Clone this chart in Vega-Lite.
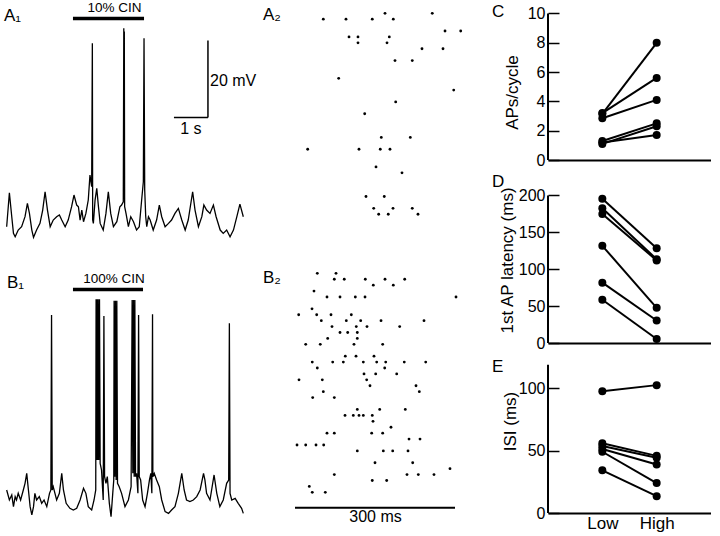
{
  "$schema": "https://vega.github.io/schema/vega-lite/v6.json",
  "padding": 0,
  "background": "white",
  "spacing": 2,
  "config": {
    "font": "Liberation Sans",
    "view": {"stroke": null},
    "axis": {"labelColor": "black", "titleColor": "black", "domainColor": "black", "tickColor": "black", "grid": false, "titleFontWeight": "normal", "labelFont": "Liberation Sans", "titleFont": "Liberation Sans"},
    "text": {"color": "black", "font": "Liberation Sans"}
  },
  "datasets": {
    "a1": [
      {"t":-0.01,"mV":2.09},{"t":0.07,"mV":10.92},{"t":0.14,"mV":4.69},{"t":0.19,"mV":0.36},{"t":0.24,"mV":-0.51},{"t":0.33,"mV":1.22},{"t":0.43,"mV":2.09},{"t":0.53,"mV":4.69},{"t":0.60,"mV":8.15},{"t":0.66,"mV":5.55},{"t":0.73,"mV":1.22},{"t":0.78,"mV":-0.68},{"t":0.87,"mV":1.22},{"t":0.97,"mV":2.95},{"t":1.05,"mV":6.42},{"t":1.12,"mV":11.18},{"t":1.19,"mV":6.42},{"t":1.27,"mV":2.09},{"t":1.36,"mV":3.82},{"t":1.46,"mV":4.69},{"t":1.54,"mV":5.12},{"t":1.61,"mV":3.82},{"t":1.71,"mV":2.09},{"t":1.80,"mV":3.82},{"t":1.90,"mV":7.29},{"t":1.97,"mV":10.32},{"t":2.05,"mV":7.72},{"t":2.10,"mV":7.29},{"t":2.15,"mV":3.82},{"t":2.20,"mV":6.42},{"t":2.25,"mV":3.39},{"t":2.32,"mV":5.55},{"t":2.39,"mV":9.02},{"t":2.44,"mV":15.51},{"t":2.49,"mV":12.48},{"t":2.51,"mV":49.73},{"t":2.52,"mV":3.82},{"t":2.54,"mV":2.95},{"t":2.59,"mV":9.02},{"t":2.64,"mV":12.05},{"t":2.69,"mV":7.29},{"t":2.74,"mV":2.95},{"t":2.83,"mV":1.22},{"t":2.91,"mV":5.55},{"t":2.98,"mV":11.18},{"t":3.05,"mV":5.55},{"t":3.13,"mV":2.09},{"t":3.23,"mV":3.39},{"t":3.32,"mV":7.29},{"t":3.37,"mV":7.72},{"t":3.42,"mV":8.58},{"t":3.435,"mV":53.63},{"t":3.445,"mV":9.5},{"t":3.45,"mV":52.8},{"t":3.46,"mV":7.29},{"t":3.50,"mV":5.55},{"t":3.57,"mV":2.09},{"t":3.64,"mV":4.69},{"t":3.72,"mV":3.39},{"t":3.81,"mV":1.22},{"t":3.89,"mV":2.09},{"t":3.96,"mV":9.02},{"t":4.01,"mV":13.78},{"t":4.03,"mV":51.03},{"t":4.05,"mV":11.62},{"t":4.08,"mV":4.69},{"t":4.11,"mV":2.09},{"t":4.16,"mV":4.69},{"t":4.21,"mV":3.82},{"t":4.30,"mV":1.22},{"t":4.40,"mV":3.82},{"t":4.48,"mV":7.72},{"t":4.55,"mV":4.69},{"t":4.65,"mV":2.09},{"t":4.75,"mV":2.95},{"t":4.84,"mV":3.82},{"t":4.94,"mV":5.55},{"t":5.04,"mV":6.85},{"t":5.14,"mV":3.82},{"t":5.24,"mV":1.22},{"t":5.33,"mV":3.82},{"t":5.46,"mV":11.18},{"t":5.53,"mV":6.42},{"t":5.63,"mV":2.09},{"t":5.73,"mV":4.69},{"t":5.79,"mV":7.72},{"t":5.87,"mV":6.42},{"t":5.97,"mV":5.55},{"t":6.07,"mV":7.72},{"t":6.15,"mV":4.69},{"t":6.27,"mV":1.22},{"t":6.36,"mV":0.36},{"t":6.46,"mV":1.22},{"t":6.56,"mV":-0.51},{"t":6.66,"mV":1.22},{"t":6.76,"mV":4.69},{"t":6.85,"mV":7.98},{"t":6.95,"mV":4.69}
    ],
    "b1": [
      {"t":-0.01,"mV":4.94},{"t":0.07,"mV":2.34},{"t":0.14,"mV":3.64},{"t":0.19,"mV":0.61},{"t":0.24,"mV":3.21},{"t":0.28,"mV":2.34},{"t":0.33,"mV":4.07},{"t":0.40,"mV":2.34},{"t":0.48,"mV":4.94},{"t":0.53,"mV":6.67},{"t":0.58,"mV":9.27},{"t":0.63,"mV":4.94},{"t":0.68,"mV":0.61},{"t":0.73,"mV":-1.56},{"t":0.78,"mV":0.61},{"t":0.82,"mV":4.07},{"t":0.87,"mV":2.34},{"t":0.95,"mV":3.21},{"t":1.02,"mV":1.47},{"t":1.09,"mV":2.34},{"t":1.17,"mV":0.61},{"t":1.25,"mV":4.07},{"t":1.29,"mV":4.94},{"t":1.31,"mV":50.42},{"t":1.33,"mV":4.94},{"t":1.36,"mV":5.80},{"t":1.41,"mV":4.07},{"t":1.46,"mV":2.34},{"t":1.54,"mV":4.07},{"t":1.61,"mV":9.27},{"t":1.66,"mV":4.94},{"t":1.74,"mV":1.47},{"t":1.85,"mV":0.17},{"t":1.95,"mV":-0.26},{"t":2.05,"mV":0.17},{"t":2.15,"mV":2.34},{"t":2.25,"mV":5.37},{"t":2.32,"mV":4.07},{"t":2.39,"mV":0.61},{"t":2.49,"mV":-0.26},{"t":2.56,"mV":2.34},{"t":2.61,"mV":4.94},{"t":2.62,"mV":54.49},{"t":2.64,"mV":12.73},{"t":2.65,"mV":54.49},{"t":2.67,"mV":12.73},{"t":2.68,"mV":54.49},{"t":2.70,"mV":12.73},{"t":2.72,"mV":54.49},{"t":2.74,"mV":11.87},{"t":2.78,"mV":10.14},{"t":2.83,"mV":2.34},{"t":2.85,"mV":50.16},{"t":2.87,"mV":8.40},{"t":2.91,"mV":6.67},{"t":2.95,"mV":8.40},{"t":3.01,"mV":1.47},{"t":3.06,"mV":-1.99},{"t":3.11,"mV":4.07},{"t":3.14,"mV":7.54},{"t":3.15,"mV":54.14},{"t":3.17,"mV":8.40},{"t":3.19,"mV":54.14},{"t":3.21,"mV":7.54},{"t":3.23,"mV":54.14},{"t":3.25,"mV":6.67},{"t":3.30,"mV":5.80},{"t":3.37,"mV":4.07},{"t":3.47,"mV":0.61},{"t":3.57,"mV":2.34},{"t":3.65,"mV":5.80},{"t":3.68,"mV":54.31},{"t":3.70,"mV":9.27},{"t":3.72,"mV":54.31},{"t":3.74,"mV":8.40},{"t":3.76,"mV":54.31},{"t":3.78,"mV":8.40},{"t":3.81,"mV":9.27},{"t":3.85,"mV":4.07},{"t":3.87,"mV":50.42},{"t":3.89,"mV":8.40},{"t":3.93,"mV":7.54},{"t":3.99,"mV":2.34},{"t":4.06,"mV":0.61},{"t":4.13,"mV":4.07},{"t":4.19,"mV":7.54},{"t":4.23,"mV":9.27},{"t":4.26,"mV":4.07},{"t":4.28,"mV":50.59},{"t":4.29,"mV":8.40},{"t":4.33,"mV":9.27},{"t":4.40,"mV":7.54},{"t":4.48,"mV":5.80},{"t":4.55,"mV":2.34},{"t":4.65,"mV":-0.69},{"t":4.75,"mV":-1.13},{"t":4.84,"mV":-0.26},{"t":4.94,"mV":0.61},{"t":5.04,"mV":4.07},{"t":5.14,"mV":9.27},{"t":5.21,"mV":4.94},{"t":5.28,"mV":2.34},{"t":5.38,"mV":1.91},{"t":5.48,"mV":2.34},{"t":5.58,"mV":3.21},{"t":5.68,"mV":4.94},{"t":5.78,"mV":9.27},{"t":5.82,"mV":7.54},{"t":5.87,"mV":4.07},{"t":5.97,"mV":2.34},{"t":6.09,"mV":8.84},{"t":6.17,"mV":4.07},{"t":6.26,"mV":0.61},{"t":6.36,"mV":2.34},{"t":6.46,"mV":6.67},{"t":6.52,"mV":7.54},{"t":6.54,"mV":48.25},{"t":6.56,"mV":4.07},{"t":6.61,"mV":2.34},{"t":6.71,"mV":2.77},{"t":6.80,"mV":1.47},{"t":6.90,"mV":0.17},{"t":6.95,"mV":-1.13}
    ],
    "a2": [
      {"r":0,"ms":168.8},{"r":0,"ms":257.4},
      {"r":1,"ms":53.1},{"r":1,"ms":95.6},{"r":1,"ms":144.9},{"r":1,"ms":184.3},
      {"r":3,"ms":281.3},{"r":3,"ms":310.7},
      {"r":4,"ms":101.3},{"r":4,"ms":118.1},{"r":4,"ms":176.8},
      {"r":5,"ms":118.1},{"r":5,"ms":172.5},
      {"r":6,"ms":238.1},{"r":6,"ms":277.5},
      {"r":8,"ms":187.5},{"r":8,"ms":219.9},
      {"r":11,"ms":81.9},
      {"r":13,"ms":297.6},
      {"r":15,"ms":188.8},
      {"r":17,"ms":130.7},
      {"r":21,"ms":161.8},{"r":21,"ms":216.2},
      {"r":23,"ms":23.8},{"r":23,"ms":120.0},{"r":23,"ms":159.9},{"r":23,"ms":178.1},
      {"r":26,"ms":151.9},
      {"r":27,"ms":200.6},
      {"r":31,"ms":133.1},{"r":31,"ms":167.4},
      {"r":33,"ms":147.6},{"r":33,"ms":183.8},{"r":33,"ms":219.9},
      {"r":34,"ms":156.9},{"r":34,"ms":174.9},{"r":34,"ms":230.6}
    ],
    "b2": [
      {"r":0,"ms":41.8},{"r":0,"ms":76.9},
      {"r":1,"ms":73.7},{"r":1,"ms":92.4},{"r":1,"ms":131.8},{"r":1,"ms":168.8},{"r":1,"ms":205.7},
      {"r":2,"ms":146.8},{"r":2,"ms":184.3},
      {"r":3,"ms":35.6},
      {"r":4,"ms":60},{"r":4,"ms":84.4},{"r":4,"ms":113.1},{"r":4,"ms":131.3},{"r":4,"ms":301.9},
      {"r":6,"ms":31.9},
      {"r":7,"ms":6.9},{"r":7,"ms":40.7},{"r":7,"ms":67.5},{"r":7,"ms":105.6},
      {"r":8,"ms":49.3},{"r":8,"ms":96.2},{"r":8,"ms":123.2},{"r":8,"ms":161.3},{"r":8,"ms":241.9},
      {"r":9,"ms":69.4},{"r":9,"ms":114.9},{"r":9,"ms":135},{"r":9,"ms":196.3},
      {"r":10,"ms":84.4},{"r":10,"ms":98.8},{"r":10,"ms":116.8},
      {"r":11,"ms":61.3},{"r":11,"ms":116.8},
      {"r":12,"ms":20.1},{"r":12,"ms":47.4},{"r":12,"ms":110.6},{"r":12,"ms":164.4},
      {"r":14,"ms":94.3},{"r":14,"ms":114.4},{"r":14,"ms":148.1},
      {"r":15,"ms":32.4},{"r":15,"ms":70.7},{"r":15,"ms":90.6},{"r":15,"ms":128.1},{"r":15,"ms":153.2},{"r":15,"ms":170.1},{"r":15,"ms":204.9},{"r":15,"ms":245.1},
      {"r":16,"ms":41.8},{"r":16,"ms":168.2},
      {"r":17,"ms":129.4},{"r":17,"ms":151.3},{"r":17,"ms":190.7},
      {"r":18,"ms":7.5},{"r":18,"ms":51.2},{"r":18,"ms":134.4},
      {"r":19,"ms":140.6},{"r":19,"ms":226.9},
      {"r":20,"ms":53.1},{"r":20,"ms":233.1},
      {"r":21,"ms":33.2},{"r":21,"ms":73.7},
      {"r":23,"ms":116.8},{"r":23,"ms":158.8},{"r":23,"ms":206.8},
      {"r":24,"ms":93.8},{"r":24,"ms":109.3},{"r":24,"ms":120},{"r":24,"ms":128.1},{"r":24,"ms":144.9},
      {"r":25,"ms":146.3},
      {"r":26,"ms":180},
      {"r":27,"ms":60},{"r":27,"ms":73.7},{"r":27,"ms":143.8},{"r":27,"ms":164.4},
      {"r":28,"ms":213.8},{"r":28,"ms":234.4},
      {"r":29,"ms":3.8},{"r":29,"ms":20.1},{"r":29,"ms":39.4},{"r":29,"ms":53.8},
      {"r":30,"ms":116.8},{"r":30,"ms":165.6},{"r":30,"ms":183.2},{"r":30,"ms":211.9},
      {"r":32,"ms":150},{"r":32,"ms":220.7},
      {"r":33,"ms":290.6},
      {"r":34,"ms":73.7},{"r":34,"ms":210},{"r":34,"ms":231.2},{"r":34,"ms":260.6},
      {"r":35,"ms":144.9},{"r":35,"ms":171.9},
      {"r":36,"ms":26.8},
      {"r":37,"ms":32.4},{"r":37,"ms":56.8}
    ],
    "c": [
      {"s":1,"cond":1,"val":3.15},{"s":1,"cond":2,"val":8.0},
      {"s":2,"cond":1,"val":3.2},{"s":2,"cond":2,"val":5.6},
      {"s":3,"cond":1,"val":2.85},{"s":3,"cond":2,"val":4.1},
      {"s":4,"cond":1,"val":1.3},{"s":4,"cond":2,"val":2.5},
      {"s":5,"cond":1,"val":1.1},{"s":5,"cond":2,"val":2.3},
      {"s":6,"cond":1,"val":1.2},{"s":6,"cond":2,"val":1.7}
    ],
    "d": [
      {"s":1,"cond":1,"val":195.5},{"s":1,"cond":2,"val":128.5},
      {"s":2,"cond":1,"val":182.7},{"s":2,"cond":2,"val":113.5},
      {"s":3,"cond":1,"val":175},{"s":3,"cond":2,"val":112},
      {"s":4,"cond":1,"val":131.8},{"s":4,"cond":2,"val":47.7},
      {"s":5,"cond":1,"val":81.8},{"s":5,"cond":2,"val":30.5},
      {"s":6,"cond":1,"val":58.6},{"s":6,"cond":2,"val":5.5}
    ],
    "e": [
      {"s":1,"cond":1,"val":97.8},{"s":1,"cond":2,"val":102.7},
      {"s":2,"cond":1,"val":56},{"s":2,"cond":2,"val":45.9},
      {"s":3,"cond":1,"val":53.8},{"s":3,"cond":2,"val":44.3},
      {"s":4,"cond":1,"val":51.4},{"s":4,"cond":2,"val":38.9},
      {"s":5,"cond":1,"val":49.2},{"s":5,"cond":2,"val":24},
      {"s":6,"cond":1,"val":34.3},{"s":6,"cond":2,"val":13.5}
    ]
  },
  "hconcat": [
    {
      "spacing": 4,
      "vconcat": [
        {
          "width": 258, "height": 254,
          "layer": [
            {"data": {"name": "a1"}, "mark": {"type": "line", "color": "black", "strokeWidth": 1.3},
             "encoding": {
               "x": {"field": "t", "type": "quantitative", "scale": {"domain": [-0.206, 7.382], "nice": false, "zero": false}, "axis": null},
               "y": {"field": "mV", "type": "quantitative", "scale": {"domain": [-5, 61], "nice": false, "zero": false}, "axis": null}}},
            {"data": {"values": [{}]}, "mark": {"type": "rule", "color": "black", "strokeWidth": 3.5},
             "encoding": {"x": {"datum": 1.94, "axis": null}, "x2": {"datum": 4.03}, "y": {"datum": 56.2, "axis": null}}},
            {"data": {"values": [{}]}, "mark": {"type": "text", "text": "10% CIN", "fontSize": 13.5, "align": "center", "baseline": "middle"},
             "encoding": {"x": {"datum": 3.16, "axis": null}, "y": {"datum": 59.05, "axis": null}}},
            {"data": {"values": [{}]}, "mark": {"type": "text", "text": "A₁", "fontSize": 17, "align": "left", "baseline": "middle"},
             "encoding": {"x": {"datum": -0.09, "axis": null}, "y": {"datum": 56.84, "axis": null}}},
            {"data": {"values": [{}]}, "mark": {"type": "rule", "color": "black", "strokeWidth": 1.5},
             "encoding": {"x": {"datum": 5.91, "axis": null}, "y": {"datum": 30.5, "axis": null}, "y2": {"datum": 50.5}}},
            {"data": {"values": [{}]}, "mark": {"type": "rule", "color": "black", "strokeWidth": 1.5},
             "encoding": {"x": {"datum": 4.91, "axis": null}, "x2": {"datum": 5.91}, "y": {"datum": 30.5, "axis": null}}},
            {"data": {"values": [{}]}, "mark": {"type": "text", "text": "20 mV", "fontSize": 16, "align": "left", "baseline": "middle"},
             "encoding": {"x": {"datum": 5.97, "axis": null}, "y": {"datum": 40.08, "axis": null}}},
            {"data": {"values": [{}]}, "mark": {"type": "text", "text": "1 s", "fontSize": 16, "align": "center", "baseline": "middle"},
             "encoding": {"x": {"datum": 5.41, "axis": null}, "y": {"datum": 27.6, "axis": null}}}
          ]
        },
        {
          "width": 258, "height": 278,
          "layer": [
            {"data": {"name": "b1"}, "mark": {"type": "line", "color": "black", "strokeWidth": 1.3},
             "encoding": {
               "x": {"field": "t", "type": "quantitative", "scale": {"domain": [-0.206, 7.382], "nice": false, "zero": false}, "axis": null},
               "y": {"field": "mV", "type": "quantitative", "scale": {"domain": [-7.02, 65.23], "nice": false, "zero": false}, "axis": null}}},
            {"data": {"values": [{}]}, "mark": {"type": "rule", "color": "black", "strokeWidth": 3.5},
             "encoding": {"x": {"datum": 1.94, "axis": null}, "x2": {"datum": 4.0}, "y": {"datum": 57.04, "axis": null}}},
            {"data": {"values": [{}]}, "mark": {"type": "text", "text": "100% CIN", "fontSize": 13.5, "align": "center", "baseline": "middle"},
             "encoding": {"x": {"datum": 3.15, "axis": null}, "y": {"datum": 59.9, "axis": null}}},
            {"data": {"values": [{}]}, "mark": {"type": "text", "text": "B₁", "fontSize": 17, "align": "left", "baseline": "middle"},
             "encoding": {"x": {"datum": 0.0, "axis": null}, "y": {"datum": 58.86, "axis": null}}}
          ]
        }
      ]
    },
    {
      "spacing": 4,
      "vconcat": [
        {
          "width": 230, "height": 254,
          "layer": [
            {"data": {"name": "a2"}, "mark": {"type": "point", "shape": "circle", "filled": true, "color": "black", "opacity": 1, "size": 8},
             "encoding": {
               "x": {"field": "ms", "type": "quantitative", "scale": {"domain": [-65.625, 365.625], "nice": false, "zero": false}, "axis": null},
               "y": {"field": "r", "type": "quantitative", "scale": {"domain": [-2.25, 40.73], "nice": false, "zero": false, "reverse": true}, "axis": null}}},
            {"data": {"values": [{}]}, "mark": {"type": "text", "text": "A₂", "fontSize": 17, "align": "left", "baseline": "middle"},
             "encoding": {"x": {"datum": -60, "axis": null}, "y": {"datum": 0.29, "axis": null}}}
          ]
        },
        {
          "width": 230, "height": 278,
          "layer": [
            {"data": {"name": "b2"}, "mark": {"type": "point", "shape": "circle", "filled": true, "color": "black", "opacity": 1, "size": 8},
             "encoding": {
               "x": {"field": "ms", "type": "quantitative", "scale": {"domain": [-65.625, 365.625], "nice": false, "zero": false}, "axis": null},
               "y": {"field": "r", "type": "quantitative", "scale": {"domain": [-2.584, 44.375], "nice": false, "zero": false, "reverse": true}, "axis": null}}},
            {"data": {"values": [{}]}, "mark": {"type": "text", "text": "B₂", "fontSize": 17, "align": "left", "baseline": "middle"},
             "encoding": {"x": {"datum": -60, "axis": null}, "y": {"datum": 0.8, "axis": null}}},
            {"data": {"values": [{}]}, "mark": {"type": "rule", "color": "black", "strokeWidth": 2},
             "encoding": {"x": {"datum": 0, "axis": null}, "x2": {"datum": 300}, "y": {"datum": 39.6, "axis": null}}},
            {"data": {"values": [{}]}, "mark": {"type": "text", "text": "300 ms", "fontSize": 16, "align": "center", "baseline": "middle"},
             "encoding": {"x": {"datum": 150.9, "axis": null}, "y": {"datum": 41.25, "axis": null}}}
          ]
        }
      ]
    },
    {
      "spacing": 4,
      "vconcat": [
        {
          "width": 163, "height": 160,
          "resolve": {"axis": {"x": "independent", "y": "independent"}},
          "layer": [
            {"data": {"name": "c"}, "mark": {"type": "line", "color": "black", "strokeWidth": 2},
             "encoding": {
               "x": {"field": "cond", "type": "quantitative", "scale": {"domain": [0, 3], "nice": false, "zero": false},
                     "axis": {"labels": false, "ticks": false, "title": null, "domainWidth": 2}},
               "y": {"field": "val", "type": "quantitative", "scale": {"domain": [0, 10.92], "nice": false, "zero": false},
                     "axis": {"values": [0, 2, 4, 6, 8, 10], "domain": false, "offset": -11, "tickSize": 11, "tickWidth": 1.5, "labelPadding": 3, "labelFontSize": 16,
                              "title": "APs/cycle", "titleFontSize": 17, "titleX": -47, "titleY": 92, "titleAngle": 270, "titleBaseline": "middle", "titleAlign": "center"}},
               "detail": {"field": "s"}}},
            {"data": {"name": "c"}, "mark": {"type": "point", "filled": true, "color": "black", "opacity": 1, "size": 64},
             "encoding": {"x": {"field": "cond", "type": "quantitative", "axis": null}, "y": {"field": "val", "type": "quantitative", "axis": null}}},
            {"data": {"values": [{}]}, "mark": {"type": "rule", "color": "black", "strokeWidth": 2},
             "encoding": {"x": {"datum": 0, "axis": null}, "y": {"datum": 0, "axis": null}, "y2": {"datum": 10}}},
            {"data": {"values": [{}]}, "mark": {"type": "text", "text": "C", "fontSize": 17, "align": "left", "baseline": "middle"},
             "encoding": {"x": {"datum": -1.03, "axis": null}, "y": {"datum": 10.1, "axis": null}}}
          ]
        },
        {
          "width": 163, "height": 170,
          "resolve": {"axis": {"x": "independent", "y": "independent"}},
          "layer": [
            {"data": {"name": "d"}, "mark": {"type": "line", "color": "black", "strokeWidth": 2},
             "encoding": {
               "x": {"field": "cond", "type": "quantitative", "scale": {"domain": [0, 3], "nice": false, "zero": false},
                     "axis": {"labels": false, "ticks": false, "title": null, "domainWidth": 2}},
               "y": {"field": "val", "type": "quantitative", "scale": {"domain": [0, 230.5], "nice": false, "zero": false},
                     "axis": {"values": [0, 50, 100, 150, 200], "domain": false, "offset": -11, "tickSize": 11, "tickWidth": 1.5, "labelPadding": 3, "labelFontSize": 16,
                              "title": "1st AP latency (ms)", "titleFontSize": 17, "titleX": -51.5, "titleY": 87, "titleAngle": 270, "titleBaseline": "middle", "titleAlign": "center"}},
               "detail": {"field": "s"}}},
            {"data": {"name": "d"}, "mark": {"type": "point", "filled": true, "color": "black", "opacity": 1, "size": 64},
             "encoding": {"x": {"field": "cond", "type": "quantitative", "axis": null}, "y": {"field": "val", "type": "quantitative", "axis": null}}},
            {"data": {"values": [{}]}, "mark": {"type": "rule", "color": "black", "strokeWidth": 2},
             "encoding": {"x": {"datum": 0, "axis": null}, "y": {"datum": 0, "axis": null}, "y2": {"datum": 200}}},
            {"data": {"values": [{}]}, "mark": {"type": "text", "text": "D", "fontSize": 17, "align": "left", "baseline": "middle"},
             "encoding": {"x": {"datum": -1.03, "axis": null}, "y": {"datum": 218.3, "axis": null}}}
          ]
        },
        {
          "width": 163, "height": 158,
          "resolve": {"axis": {"x": "independent", "y": "independent"}},
          "layer": [
            {"data": {"name": "e"}, "mark": {"type": "line", "color": "black", "strokeWidth": 2},
             "encoding": {
               "x": {"field": "cond", "type": "quantitative", "scale": {"domain": [0, 3], "nice": false, "zero": false},
                     "axis": {"values": [1, 2], "labelExpr": "datum.value == 1 ? 'Low' : 'High'", "ticks": false, "title": null, "domainWidth": 2, "labelFontSize": 17, "labelPadding": 2, "labelFlush": false}},
               "y": {"field": "val", "type": "quantitative", "scale": {"domain": [0, 126.9], "nice": false, "zero": false},
                     "axis": {"values": [0, 50, 100], "domain": false, "offset": -11, "tickSize": 11, "tickWidth": 1.5, "labelPadding": 3, "labelFontSize": 16,
                              "title": "ISI (ms)", "titleFontSize": 17, "titleX": -49, "titleY": 66, "titleAngle": 270, "titleBaseline": "middle", "titleAlign": "center"}},
               "detail": {"field": "s"}}},
            {"data": {"name": "e"}, "mark": {"type": "point", "filled": true, "color": "black", "opacity": 1, "size": 64},
             "encoding": {"x": {"field": "cond", "type": "quantitative", "axis": null}, "y": {"field": "val", "type": "quantitative", "axis": null}}},
            {"data": {"values": [{}]}, "mark": {"type": "rule", "color": "black", "strokeWidth": 2},
             "encoding": {"x": {"datum": 0, "axis": null}, "y": {"datum": 0, "axis": null}, "y2": {"datum": 119}}},
            {"data": {"values": [{}]}, "mark": {"type": "text", "text": "E", "fontSize": 17, "align": "left", "baseline": "middle"},
             "encoding": {"x": {"datum": -1.03, "axis": null}, "y": {"datum": 117.3, "axis": null}}}
          ]
        }
      ]
    }
  ]
}
